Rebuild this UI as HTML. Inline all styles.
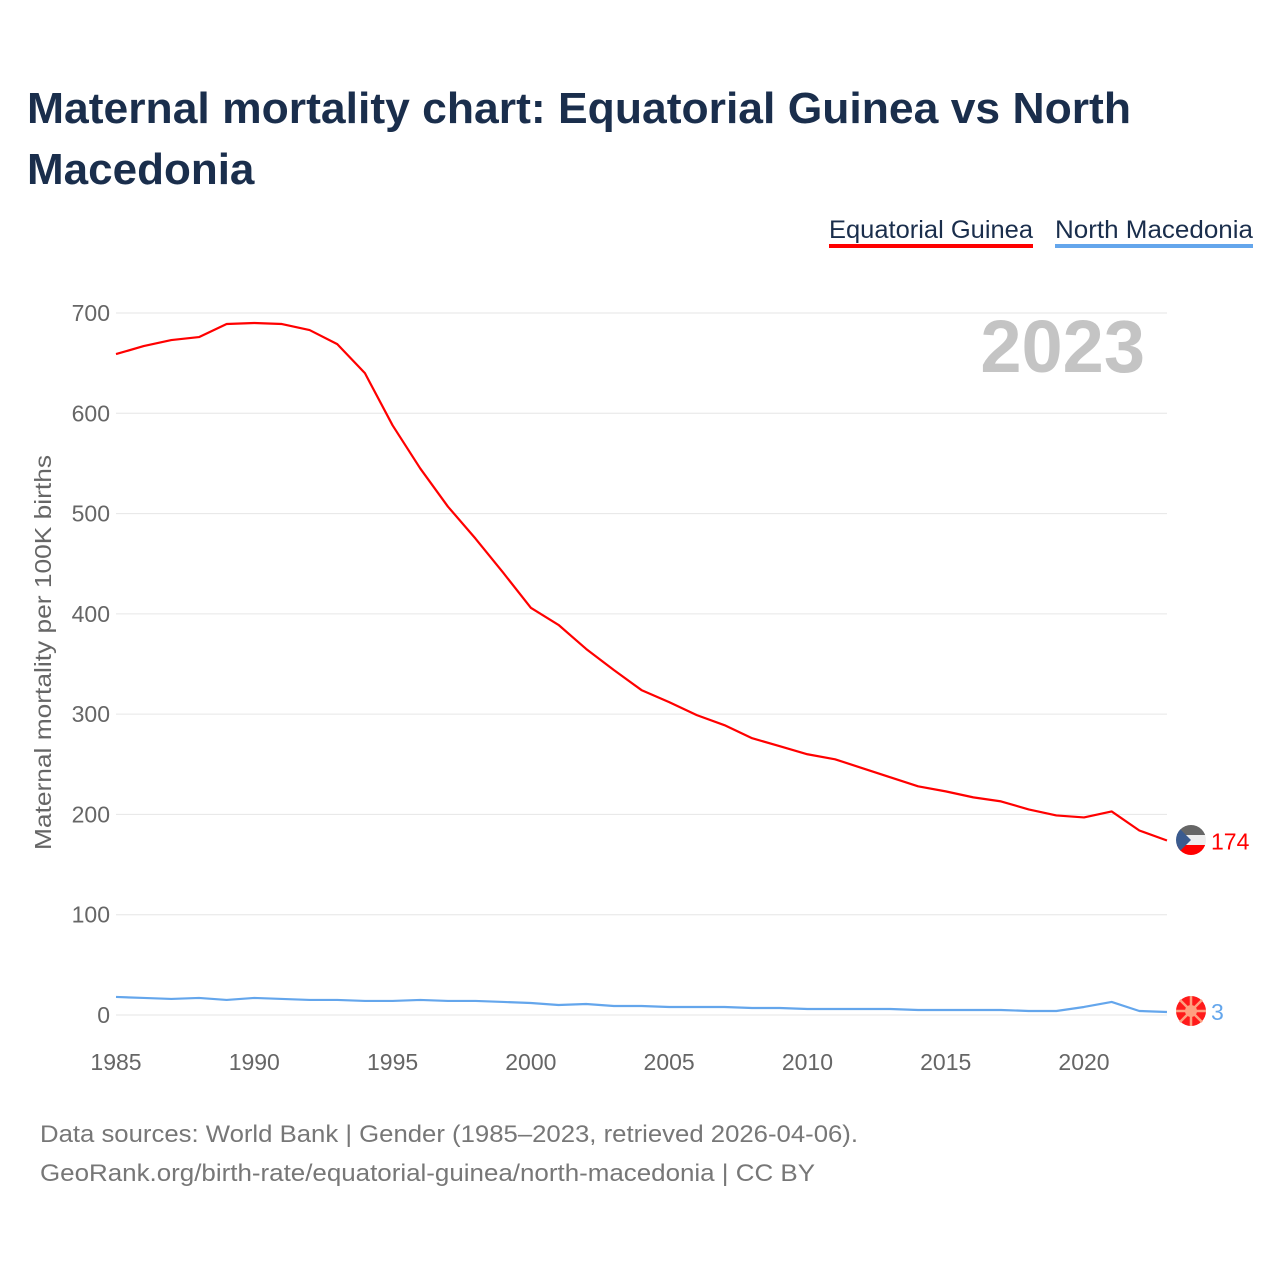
<!DOCTYPE html>
<html><head><meta charset="utf-8"><style>
body{margin:0;background:#fff;font-family:"Liberation Sans",sans-serif;}
#wrap{position:relative;width:1280px;height:1280px;overflow:hidden;}
</style></head><body>
<div id="wrap">
<svg id="svg" width="1280" height="1280" xmlns="http://www.w3.org/2000/svg">
<text x="27" y="123" font-size="44" font-weight="bold" fill="#1a2e4c" textLength="1104" lengthAdjust="spacingAndGlyphs">Maternal mortality chart: Equatorial Guinea vs North</text>
<text x="27" y="184" font-size="44" font-weight="bold" fill="#1a2e4c">Macedonia</text>
<g>
<text x="829" y="238" font-size="25" fill="#1a2e4c" textLength="204" lengthAdjust="spacingAndGlyphs">Equatorial Guinea</text>
<rect x="829" y="244" width="204" height="4" fill="#ff0000"/>
<text x="1055" y="238" font-size="25" fill="#1a2e4c" textLength="198" lengthAdjust="spacingAndGlyphs">North Macedonia</text>
<rect x="1055" y="244" width="198" height="4" fill="#64a6ec"/>
</g>
<text x="1145" y="372" font-size="74" font-weight="bold" fill="#c4c4c4" text-anchor="end">2023</text>
<g id="grid"></g><g id="yt"></g><g id="xt"></g><g id="lines"></g>
<text transform="translate(51,850) rotate(-90)" font-size="23" fill="#666" textLength="395" lengthAdjust="spacingAndGlyphs">Maternal mortality per 100K births</text>
<g>
<clipPath id="c1"><circle cx="1191" cy="840" r="15"/></clipPath>
<g clip-path="url(#c1)"><rect x="1176" y="825" width="30" height="10" fill="#666"/><rect x="1176" y="835" width="30" height="10" fill="#eee"/><rect x="1176" y="845" width="30" height="10" fill="#ff0000"/><polygon points="1176,825 1191,840 1176,855" fill="#3b5b8f"/></g></g>
<g>
<circle cx="1191" cy="1011" r="15" fill="#ff1a1a"/><circle cx="1191" cy="1011" r="6" fill="#ffa080"/>
<g stroke="#ffa080" stroke-width="2.5"><line x1="1176" y1="1011" x2="1206" y2="1011"/><line x1="1191" y1="996" x2="1191" y2="1026"/><line x1="1180" y1="1000" x2="1202" y2="1022"/><line x1="1202" y1="1000" x2="1180" y2="1022"/></g></g>
<g id="endlabels"></g>
<text x="40" y="1142" font-size="24" fill="#777" textLength="818" lengthAdjust="spacingAndGlyphs">Data sources: World Bank | Gender (1985–2023, retrieved 2026-04-06).</text>
<text x="40" y="1181" font-size="24" fill="#777" textLength="775" lengthAdjust="spacingAndGlyphs">GeoRank.org/birth-rate/equatorial-guinea/north-macedonia | CC BY</text>
</svg></div>
<script>
const years=[1985,1986,1987,1988,1989,1990,1991,1992,1993,1994,1995,1996,1997,1998,1999,2000,2001,2002,2003,2004,2005,2006,2007,2008,2009,2010,2011,2012,2013,2014,2015,2016,2017,2018,2019,2020,2021,2022,2023];
const equatorialGuinea=[659,667,673,676,689,690,689,683,669,640,588,545,507,475,441,406,389,365,344,324,312,299,289,276,268,260,255,246,237,228,223,217,213,205,199,197,203,184,174];
const northMacedonia=[18,17,16,17,15,17,16,15,15,14,14,15,14,14,13,12,10,11,9,9,8,8,8,7,7,6,6,6,6,5,5,5,5,4,4,8,13,4,3];
const yTicks=[0,100,200,300,400,500,600,700];
const xTicks=[1985,1990,1995,2000,2005,2010,2015,2020];
const NS="http://www.w3.org/2000/svg";
const x=v=>116+(v-1985)*(1084-116)/35;
const y=v=>1015-v*(1015-313)/700;
function mk(t,a,p){const e=document.createElementNS(NS,t);for(const k in a)e.setAttribute(k,a[k]);document.getElementById(p).appendChild(e);return e;}
yTicks.forEach(t=>{
 const l=mk('line',{x1:116,x2:1167,y1:y(t),y2:y(t),stroke:'#e6e6e6','stroke-width':1},'grid');
 
 
 const tx=mk('text',{x:110,y:y(t)+8,'font-size':23,fill:'#666','text-anchor':'end'},'yt');tx.textContent=t;
 
 
});
xTicks.forEach(t=>{
 const tx=mk('text',{x:x(t),y:1070,'font-size':23,fill:'#666','text-anchor':'middle'},'xt');tx.textContent=t;
 
 
});
function line(vals,col,name){
 const p=mk('polyline',{points:vals.map((v,i)=>x(years[i])+','+y(v)).join(' '),fill:'none',stroke:col,'stroke-width':2.2,'stroke-linejoin':'round'},'lines');
 
 
}
line(equatorialGuinea,'#ff0000','line-equatorial-guinea');
line(northMacedonia,'#64a6ec','line-north-macedonia');
const e1=mk('text',{x:1211,y:y(equatorialGuinea[equatorialGuinea.length-1])+9,'font-size':23,fill:'#ff0000'},'endlabels');
e1.textContent=equatorialGuinea[equatorialGuinea.length-1];


const e2=mk('text',{x:1211,y:y(northMacedonia[northMacedonia.length-1])+8,'font-size':23,fill:'#64a6ec'},'endlabels');
e2.textContent=northMacedonia[northMacedonia.length-1];


</script></body></html>
